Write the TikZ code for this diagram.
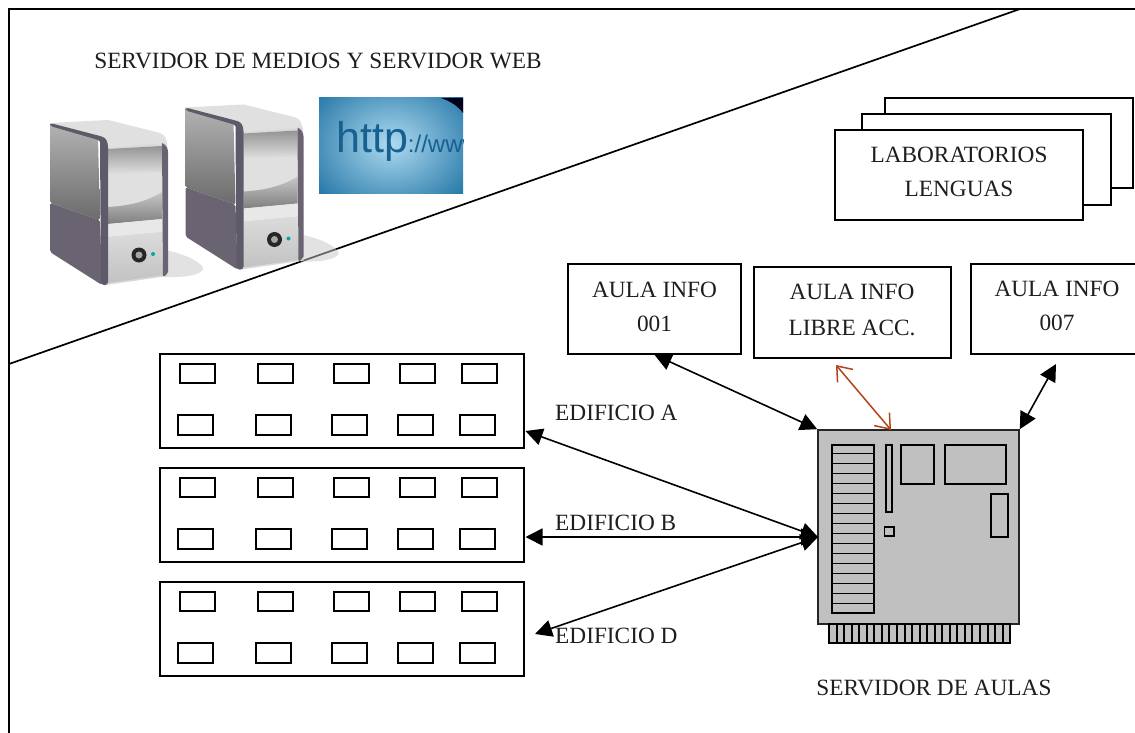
\documentclass[tikz,border=0pt]{standalone}
\usepackage{fontspec}
\setmainfont{Liberation Serif}
\newfontfamily\urlfont{Liberation Sans}
\usetikzlibrary{arrows.meta}
\definecolor{txt}{HTML}{1E1E1E}
\definecolor{boardgray}{HTML}{C0C0C0}
\definecolor{redarrow}{HTML}{B5431A}
\definecolor{urlblue}{HTML}{17608F}
\definecolor{urledge}{HTML}{1B80BC}
\definecolor{urlglow}{HTML}{AEDAF0}
\definecolor{towerdark}{HTML}{5F5A69}
\definecolor{towerside}{HTML}{6A6472}
\tikzset{
  every node/.style={text=txt,font=\fontsize{23.3}{34}\selectfont,inner sep=0pt},
  boxnode/.style={draw=black,line width=1.6pt,fill=white,minimum width=#1},
  boxh/.style={minimum height=#1},
  lbl/.style={anchor=center,align=center},
  thin box/.style={draw=black,line width=1.4pt},
  link/.style={line width=1.6pt,{Triangle[length=17pt,width=17pt]}-{Triangle[length=17pt,width=17pt]}},
  redlink/.style={draw=redarrow,line width=1.5pt,{Straight Barb[length=13pt,width=20pt]}-{Straight Barb[length=13pt,width=20pt]}},
  part/.style={draw=black,line width=1.5pt},
}
\newcommand{\buildingrects}[1]{%
  \foreach \xa in {180,258,334,400,462}
    \draw[thin box] (\xa,#1+10) rectangle (\xa+35,#1+29);
  \foreach \xa in {178,256,332,398,460}
    \draw[thin box] (\xa,#1+61) rectangle (\xa+35,#1+81);
}
\newcommand{\towerart}[2]{%
\begin{scope}[shift={(#1,#2)}]
  \fill[gray!45,opacity=.5] (165,250) .. controls (190,255) and (205,265) .. (203,270) .. controls (195,278) and (175,277) .. (165,277) -- cycle;
  % top
  \path[fill=black!12] (50,123) -- (108,120) -- (160,133) .. controls (165,135) and (167,139) .. (167,146) -- (108,149) -- (100,137) -- cycle;
  % front
  \path[fill=black!15] (106,148) -- (167,143) -- (168,276) -- (106,285) -- cycle;
  \path[top color=black!42,bottom color=black!12] (108,149) -- (162,146) -- (162,172) -- (108,174) -- cycle;
  \path[fill=black!12] (108,174) -- (162,172) -- (162,192) .. controls (145,203) and (125,206) .. (108,207) -- cycle;
  \path[top color=black!22,bottom color=black!50] (108,207) .. controls (125,206) and (145,203) .. (162,192) -- (162,219) -- (108,224) -- cycle;
  \path[fill=black!9] (108,224) -- (162,219) -- (163,232) -- (108,237) -- cycle;
  \path[top color=black!14,bottom color=black!24] (108,237) -- (163,232) -- (164,275) -- (108,283) -- cycle;
  \path[fill=towerside] (162,143) .. controls (166,145) and (168,148) .. (168,152) -- (168,272) -- (165,276) -- (163,276) -- cycle;
  % side
  \path[top color=black!30,bottom color=black!58,rounded corners=2pt] (50,123) -- (98,137) -- (100,220) -- (50,203) -- cycle;
  \path[fill=towerside,rounded corners=2pt] (50,203) -- (100,220) -- (102,285) -- (50,252) -- cycle;
  \path[fill=towerdark,rounded corners=3pt] (50,123) -- (100,136) .. controls (106,138) and (108,142) .. (108,150) -- (108,285) -- (101,285) -- (100,145) .. controls (100,141) and (98,140) .. (95,139) -- (50,126) -- cycle;
  % button
  \fill[black!85] (139,255) circle (7.5pt);
  \fill[black!35] (139,255) circle (3.5pt);
  \fill[teal!70!cyan] (153,254) circle (2pt);
\end{scope}}
\begin{document}
\begin{tikzpicture}[x=1pt,y=-1pt]
\useasboundingbox (0,0) rectangle (1135,733);
\begin{scope}
\clip (0,0) rectangle (1135,733);
\fill[white] (0,0) rectangle (1135,733);
% outer frame and diagonal
\draw[black,line width=1.7pt] (9,740) -- (9,9) -- (1145,9);
\coordinate (diagA) at (9,364);
\coordinate (diagB) at (1020,9);
\draw[black,line width=1.7pt] (diagA) -- (diagB);

\node[lbl] (mediaTitle) at (318,61) {SERVIDOR DE MEDIOS Y SERVIDOR WEB};
\towerart{0}{0}
\towerart{135.5}{-15.5}

% http picture
\begin{scope}
  \clip (319,98) rectangle (463,193);
  \shade[inner color=urlglow,outer color=urledge!85!black,shading=radial] (285,60) rectangle (497,228);
  \fill[black!90!blue] (441,98) .. controls (450,101) and (458,106) .. (463,113) -- (463,98) -- cycle;
  \node[anchor=base west,text=urlblue] (urlText) at (336,153) {\urlfont\fontsize{43}{43}\selectfont http\fontsize{24}{24}\selectfont ://www};
\end{scope}

% laboratories
\node[boxnode=248pt,boxh=90pt] (labC) at (1009,143) {};
\node[boxnode=249pt,boxh=91pt] (labB) at (986.5,159.5) {};
\node[boxnode=248pt,boxh=90pt] (labA) at (959,175) {};
\node[lbl] (labAt) at (959,172) {LABORATORIOS\\LENGUAS};

% classrooms
\node[boxnode=173pt,boxh=90pt,lbl] (aula1) at (654.5,309) {};
\node[lbl] (aula1t) at (654.5,307) {AULA INFO\\001};
\node[boxnode=197pt,boxh=91pt] (aulaL) at (852.5,312.5) {};
\node[lbl] (aulaLt) at (852,310) {AULA INFO\\[2pt]LIBRE ACC.};
\node[boxnode=170pt,boxh=90pt] (aula7) at (1056,309) {};
\node[lbl] (aula7t) at (1057,306) {AULA INFO\\007};

% buildings
\node[boxnode=364pt,boxh=94pt] (edA) at (342,401) {};
\buildingrects{354}
\node[boxnode=364pt,boxh=94pt] (edB) at (342,515) {};
\buildingrects{468}
\node[boxnode=364pt,boxh=94pt] (edD) at (342,629) {};
\buildingrects{582}
\node[anchor=base west] (lblA) at (555,420) {EDIFICIO A};
\node[anchor=base west] (lblB) at (555,530) {EDIFICIO B};
\node[anchor=base west] (lblD) at (555,643) {EDIFICIO D};

% server board
\node[draw=black!85,line width=1.6pt,fill=boardgray,minimum width=201pt,minimum height=194pt] (board) at (918.5,527) {};
\draw[part,fill=boardgray] (829,624) rectangle (1010,643);
\foreach \i in {0,...,23}
  \draw[black,line width=2pt] (829+\i*7.55,624) -- (829+\i*7.55,643);
\draw[part] (832,445) rectangle (874,613);
\foreach \i in {1,...,16}
  \draw[black,line width=1.7pt] (832,443.5+\i*10) -- (874,443.5+\i*10);
\draw[part] (886,445) rectangle (892,512);
\draw[part] (884.5,527) rectangle (894,536);
\draw[part] (901,445) rectangle (934,484);
\draw[part] (945,445) rectangle (1006,484);
\draw[part] (991,494) rectangle (1008,537);
\node[anchor=base] (srvLbl) at (934,695) {SERVIDOR DE AULAS};

% connectors
\coordinate (boardL) at (818,537);
\coordinate (boardR) at (891,430);
\coordinate (edAend) at (525.5,431);
\coordinate (edDend) at (535,634);
\coordinate (edBend) at (525.5,537);
\coordinate (redEnd) at (836,365);
\coordinate (a7End) at (1056,364);
\draw[link] (aula1.south) -- (board.north west);
\draw[link] (a7End) -- (board.north east);
\draw[redlink] (redEnd) -- (boardR);
\draw[link] (edAend) -- (boardL);
\draw[link] (edBend) -- (boardL);
\draw[link] (edDend) -- (boardL);
\end{scope}
\end{tikzpicture}
\end{document}
